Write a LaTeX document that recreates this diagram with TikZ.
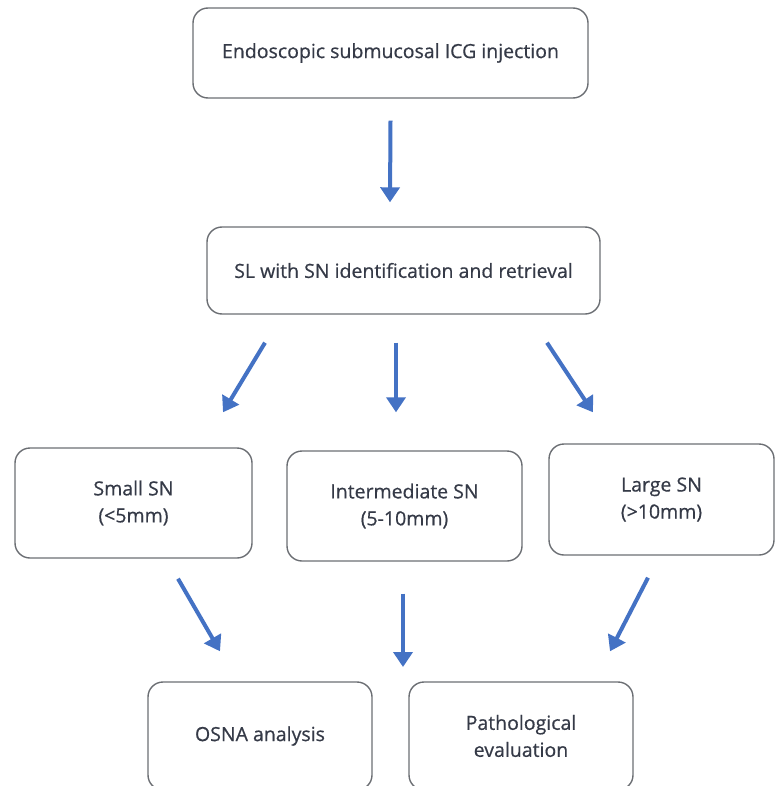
\documentclass[tikz,border=0pt]{standalone}
\usepackage{fontspec}
\setmainfont{Open Sans}
\newfontfamily\boxfont{Open Sans}[FakeBold=0.6]
\usetikzlibrary{arrows.meta,positioning}

\definecolor{flowblue}{HTML}{4472C4}
\definecolor{boxline}{HTML}{6B6E73}
\definecolor{boxtext}{HTML}{353A47}

\begin{document}
\begin{tikzpicture}[
  x=1bp, y=-1bp,
  box/.style={draw=boxline, line width=1.4bp, rounded corners=15bp, align=center, text=boxtext,
    font=\boxfont\fontsize{19.5bp}{27bp}\selectfont, inner sep=0pt},
  arr/.style={-{Triangle[width=19bp,length=15bp]}, draw=flowblue, line width=4bp}
]
\useasboundingbox (0,0) rectangle (775,786);

\node[box, minimum width=395bp, minimum height=90bp] (icg) at (390.5,53) {Endoscopic submucosal ICG injection};
\node[box, minimum width=393bp, minimum height=87bp] (sl) at (403.5,270.5) {SL with SN identification and retrieval};

\node[box, minimum width=237bp, minimum height=110bp] (small) at (133.5,503) {Small SN\\(<5mm)};
\node[box, minimum width=235bp, minimum height=110bp] (inter) at (404.5,506) {Intermediate SN\\(5-10mm)};
\node[box, minimum width=225bp, minimum height=111bp] (large) at (661.5,499.5) {Large SN\\(>10mm)};

\node[box, minimum width=224bp, minimum height=108bp] (osna) at (260,736) {OSNA analysis};
\node[box, minimum width=224bp, minimum height=108bp] (patho) at (521,736) {Pathological\\evaluation};
\coordinate (gap) at (403,667);

\draw[arr] ([shift={(0,22)}]icg.south) -- ([shift={(-13.5,-24)}]sl.north);

\draw[arr] ([shift={(-138.5,28)}]sl.south) -- ([shift={(89.5,-35)}]small.north);
\draw[arr] ([shift={(-7.5,28)}]sl.south) -- ([shift={(-8.5,-38)}]inter.north);
\draw[arr] ([shift={(143.5,28)}]sl.south) -- ([shift={(-68.5,-31)}]large.north);

\draw[arr] ([shift={(44.5,20)}]small.south) -- ([shift={(-40,-30)}]osna.north);
\draw[arr] ([shift={(-1.5,32)}]inter.south) -- (gap);
\draw[arr] ([shift={(-13.5,22)}]large.south) -- ([shift={(89,-30)}]patho.north);

\end{tikzpicture}
\end{document}
